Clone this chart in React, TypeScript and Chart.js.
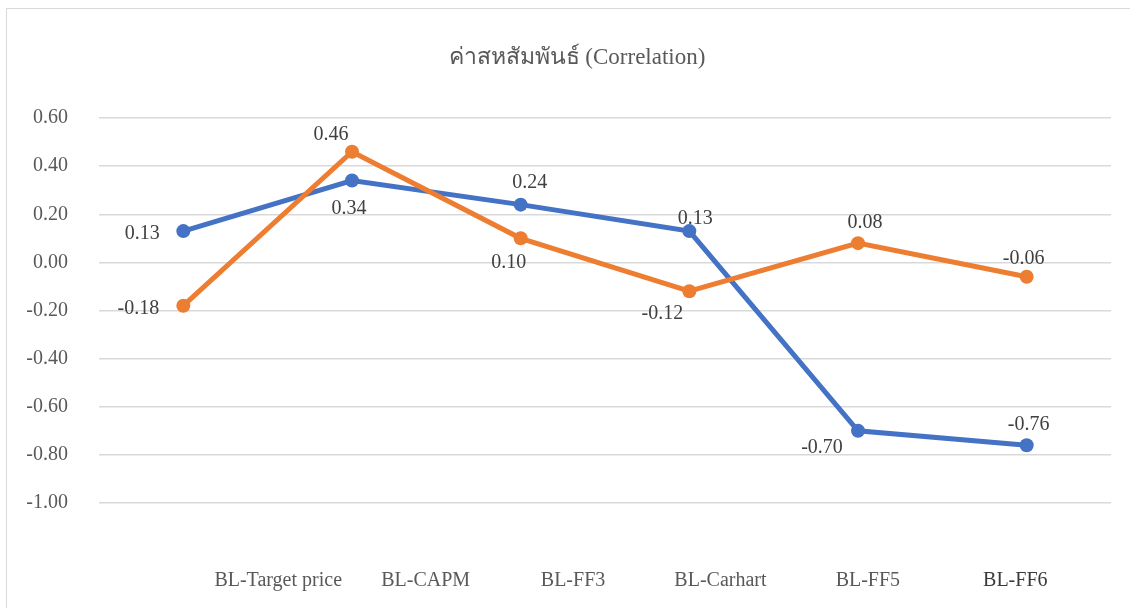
import React, { useEffect, useRef } from "react";
import { Chart, registerables } from "chart.js";

Chart.register(...registerables);

const categories = ["BL-Target price", "BL-CAPM", "BL-FF3", "BL-Carhart", "BL-FF5", "BL-FF6"];
const seriesBlue = [0.13, 0.34, 0.24, 0.13, -0.7, -0.76];
const seriesOrange = [-0.18, 0.46, 0.1, -0.12, 0.08, -0.06];
const yMin = -1.0;
const yMax = 0.6;
const yStep = 0.2;
const titleText = "ค่าสหสัมพันธ์ (Correlation)";

// label placement offsets (style only), relative to each point
const blueLabelOffsets = [[-41, 3], [-3, 28], [9, -22], [6, -12], [-36, 17], [2, -21]];
const orangeLabelOffsets = [[-45, 3], [-21, -17], [-12, 24], [-27, 22], [7, -20], [-3, -18]];

const FONT = "'Liberation Serif', 'Times New Roman', serif";

const dataLabelPlugin = {
  id: "dataLabels",
  afterDatasetsDraw(chart: any) {
    const ctx = chart.ctx;
    ctx.save();
    ctx.font = `20px ${FONT}`;
    ctx.fillStyle = "#404040";
    ctx.textAlign = "center";
    ctx.textBaseline = "middle";
    chart.data.datasets.forEach((ds: any, di: number) => {
      const meta = chart.getDatasetMeta(di);
      const offs = ds.labelOffsets || [];
      meta.data.forEach((pt: any, i: number) => {
        const o = offs[i] || [0, -18];
        const v = ds.data[i] as number;
        ctx.fillText(v.toFixed(2), pt.x + o[0], pt.y + o[1]);
      });
    });
    ctx.restore();
  },
};

const titlePlugin = {
  id: "customTitle",
  afterDraw(chart: any) {
    const ctx = chart.ctx;
    ctx.save();
    ctx.font = `23px ${FONT}`;
    ctx.fillStyle = "#595959";
    ctx.textAlign = "center";
    ctx.textBaseline = "middle";
    ctx.fillText(titleText, 577, 58);
    ctx.restore();
  },
};

const shiftLabelAxisPlugin = {
  id: "shiftLabelAxis",
  afterLayout(chart: any) {
    const s = chart.scales.x2;
    if (!s) return;
    const area = chart.chartArea;
    s.left = area.left + 105.5;
    s.right = area.right - 22;
    s.width = s.right - s.left;
    s.configure();
  },
};

export default function App() {
  const ref = useRef<HTMLCanvasElement | null>(null);

  useEffect(() => {
    if (!ref.current) return;
    const chart = new Chart(ref.current, {
      type: "line",
      data: {
        labels: categories,
        datasets: [
          {
            label: "Blue",
            data: seriesBlue,
            borderColor: "#4472C4",
            backgroundColor: "#4472C4",
            borderWidth: 5,
            pointRadius: 7,
            pointBorderWidth: 0,
            pointBackgroundColor: "#4472C4",
            tension: 0,
            order: 2,
            labelOffsets: blueLabelOffsets,
          } as any,
          {
            label: "Orange",
            data: seriesOrange,
            borderColor: "#ED7D31",
            backgroundColor: "#ED7D31",
            borderWidth: 5,
            pointRadius: 7,
            pointBorderWidth: 0,
            pointBackgroundColor: "#ED7D31",
            tension: 0,
            order: 1,
            labelOffsets: orangeLabelOffsets,
          } as any,
        ],
      },
      options: {
        animation: false,
        responsive: false,
        maintainAspectRatio: false,
        layout: { padding: { left: 0, right: 19, top: 118, bottom: 15 } },
        plugins: {
          legend: { display: false },
          tooltip: { enabled: false },
          title: { display: false },
        },
        scales: {
          x: {
            type: "category",
            display: false,
            offset: true,
          },
          x2: {
            type: "category",
            labels: categories,
            position: "bottom",
            offset: true,
            afterFit: (s: any) => {
              s.height = 90;
            },
            grid: { display: false, drawTicks: false },
            border: { display: false },
            ticks: {
              padding: 66,
              maxRotation: 0,
              autoSkip: false,
              color: (c: any) => (c.index === 5 ? "#3a3a3a" : "#595959"),
              font: { family: FONT, size: 20 },
            },
          },
          y: {
            min: yMin,
            max: yMax,
            afterFit: (s: any) => {
              s.width = 99;
            },
            grid: { color: "#d9d9d9", lineWidth: 1.5, drawTicks: false },
            border: { display: false },
            ticks: {
              stepSize: yStep,
              padding: 31,
              color: "#595959",
              font: { family: FONT, size: 20 },
              callback: (v: any) => {
                const n = Math.abs(Number(v)) < 1e-9 ? 0 : Number(v);
                return n.toFixed(2);
              },
            },
          },
        },
      } as any,
      plugins: [dataLabelPlugin, shiftLabelAxisPlugin, titlePlugin],
    });
    return () => chart.destroy();
  }, []);

  return (
    <div style={{ position: "absolute", left: 0, top: 0, width: 1130, height: 608, overflow: "hidden", background: "#fff" }}>
      <div
        style={{
          position: "absolute",
          left: 6,
          top: 8,
          width: 1140,
          height: 640,
          border: "1px solid #d9d9d9",
          boxSizing: "border-box",
        }}
      />
      <canvas ref={ref} width={1130} height={608} style={{ position: "absolute", left: 0, top: 0, width: 1130, height: 608 }} />
    </div>
  );
}
